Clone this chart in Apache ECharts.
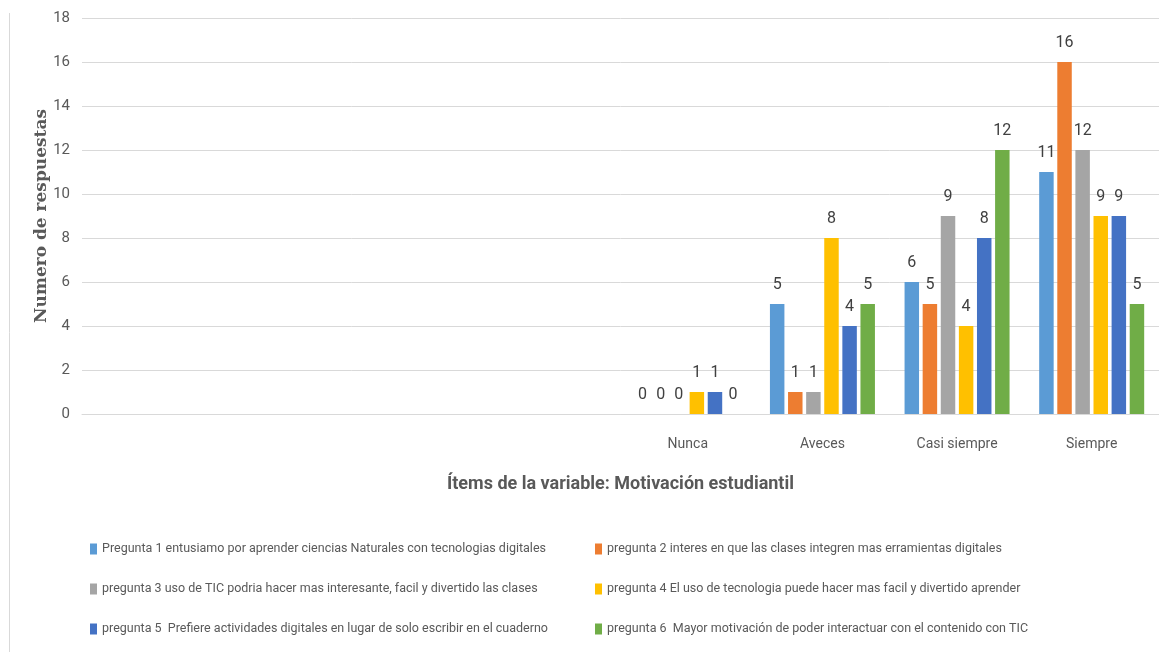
<!DOCTYPE html>
<html>
<head>
<meta charset="utf-8">
<script src="https://cdn.jsdelivr.net/npm/echarts@6/dist/echarts.min.js"></script>
<style>
html,body{margin:0;padding:0;background:#fff;}
#c{width:1159px;height:652px;}
</style>
</head>
<body>
<div id="c"></div>
<script>
const categories = ['', '', '', '', 'Nunca', 'Aveces', 'Casi siempre', 'Siempre'];
const seriesNames = [
  'Pregunta 1 entusiamo por aprender ciencias Naturales con tecnologias digitales',
  'pregunta 2 interes en que las clases integren mas erramientas digitales',
  'pregunta 3 uso de TIC podria hacer mas interesante, facil y divertido las clases',
  'pregunta 4 El uso de tecnologia puede hacer mas facil y divertido aprender',
  'pregunta 5  Prefiere actividades digitales en lugar de solo escribir en el cuaderno',
  'pregunta 6  Mayor motivación de poder interactuar con el contenido con TIC'
];
// values for Nunca, Aveces, Casi siempre, Siempre
const p1 = [0, 5, 6, 11];
const p2 = [0, 1, 5, 16];
const p3 = [0, 1, 9, 12];
const p4 = [1, 8, 4, 9];
const p5 = [1, 4, 8, 9];
const p6 = [0, 5, 12, 5];
const yTicks = { min: 0, max: 18, interval: 2 };
const colors = ['#5B9BD5', '#ED7D31', '#A5A5A5', '#FFC000', '#4472C4', '#70AD47'];

const values = [p1, p2, p3, p4, p5, p6];
const emptyCount = categories.length - p1.length;
const FONT = 'Roboto, sans-serif';

const chart = echarts.init(document.getElementById('c'));
const series = values.map((v, i) => ({
  name: seriesNames[i],
  type: 'bar',
  data: new Array(emptyCount).fill('-').concat(v),
  itemStyle: { color: colors[i] },
  barGap: '25%',
  barCategoryGap: '22%',
  label: {
    show: true,
    position: 'top',
    distance: 11,
    color: '#404040',
    fontSize: 16,
    fontFamily: FONT
  }
}));

const legendCommon = {
  orient: 'vertical',
  top: 534,
  itemWidth: 7,
  itemHeight: 11,
  itemGap: 20,
  icon: 'rect',
  textStyle: { color: '#595959', fontSize: 12.5, fontFamily: FONT, lineHeight: 20 }
};

chart.setOption({
  animation: false,
  backgroundColor: '#fff',
  grid: { left: 82, right: 0, top: 18, bottom: 238, containLabel: false },
  legend: [
    Object.assign({ left: 85, data: [seriesNames[0], seriesNames[2], seriesNames[4]] }, legendCommon),
    Object.assign({ left: 590, data: [seriesNames[1], seriesNames[3], seriesNames[5]] }, legendCommon)
  ],
  xAxis: {
    type: 'category',
    data: categories,
    axisLine: { show: true, lineStyle: { color: '#d9d9d9', width: 1 } },
    axisTick: { show: false },
    axisLabel: { color: '#595959', fontSize: 14, fontFamily: FONT, margin: 23 },
    name: 'Ítems de la variable: Motivación estudiantil',
    nameLocation: 'middle',
    nameGap: 61,
    nameTextStyle: { color: '#595959', fontSize: 18, fontWeight: 'bold', fontFamily: FONT }
  },
  yAxis: {
    type: 'value',
    min: yTicks.min,
    max: yTicks.max,
    interval: yTicks.interval,
    axisLine: { show: false },
    axisTick: { show: false },
    splitLine: { lineStyle: { color: '#d9d9d9', width: 1 } },
    axisLabel: { color: '#595959', fontSize: 15, fontFamily: FONT, margin: 12 },
    name: 'Numero de respuestas',
    nameLocation: 'middle',
    nameRotate: 90,
    nameGap: 32,
    nameMoveOverlap: false,
    nameTextStyle: { color: '#595959', fontSize: 17, fontWeight: 'bold', fontFamily: '"DejaVu Serif", "Liberation Serif", serif' }
  },
  graphic: [{
    type: 'line',
    shape: { x1: 9.5, y1: 13, x2: 9.5, y2: 652 },
    style: { stroke: '#d9d9d9', lineWidth: 1 }
  }],
  series: series
});
</script>
</body>
</html>
